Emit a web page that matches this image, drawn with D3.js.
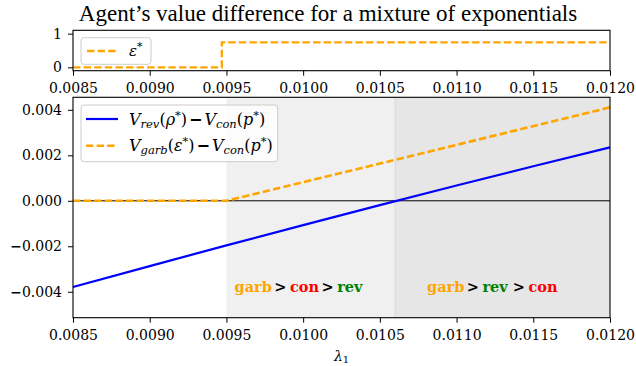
<!DOCTYPE html>
<html>
<head>
<meta charset="utf-8">
<script src="https://cdn.jsdelivr.net/npm/d3@7"></script>
<style>
  html, body { margin: 0; padding: 0; background: #fff; }
  svg { display: block; }
  .tick text { font-family: "DejaVu Serif", serif; font-size: 14px; fill: #000; }
  .domain { display: none; }
</style>
</head>
<body>
<svg id="chart" width="636" height="366"></svg>
<script>
// λ₁ grid and value differences
const lambda = [0.0085, 0.0090, 0.0095, 0.0100, 0.0105, 0.0110, 0.0115, 0.0120];
const revMinusCon = [-0.00379, -0.00287, -0.00196, -0.00107, -0.00019, 0.00067, 0.00152, 0.00235];
const garbMinusCon = [0, 0, 0, 0.00082, 0.00164, 0.00246, 0.00328, 0.00411];

// optimal garbling ε* (step function)
const epsLambda = [0.0085, 0.00947, 0.0120];
const epsStar = [0, 0.74, 0.74];

// shaded preference regions
const regionEdges = [0.0095, 0.0106, 0.0120];
const regionFill = ["#f0f0f0", "#e6e6e6"];
const regionOrders = [
  ["garb", "con", "rev"],
  ["garb", "rev", "con"]
];
const orderColor = { garb: "#ffa500", con: "#ff0000", rev: "#008000" };

// ticks
const xTicks = [0.0085, 0.0090, 0.0095, 0.0100, 0.0105, 0.0110, 0.0115, 0.0120];
const yTicksTop = [0, 1];
const yTicksBottom = [-0.004, -0.002, 0.000, 0.002, 0.004];

const title = "Agent\u2019s value difference for a mixture of exponentials";

const svg = d3.select("#chart");
const left = 73, right = 610;
const top1 = 30.3, bot1 = 70.7;
const top2 = 97.3, bot2 = 317.7;

const x = d3.scaleLinear().domain([0.0085, 0.0120]).range([left, right]);
const y1 = d3.scaleLinear().domain([-0.1, 1.1]).range([bot1, top1]);
const y2 = d3.scaleLinear().domain([-0.00514, 0.00455]).range([bot2, top2]);

const MINUS = "\u2212";

// title
svg.append("text")
  .attr("x", 328).attr("y", 21)
  .attr("text-anchor", "middle")
  .style("font-family", "'Liberation Serif', serif")
  .style("font-size", "23px")
  .text(title);

// ---------- top panel ----------
const gTop = svg.append("g");
gTop.append("path")
  .datum(epsLambda.map((l, i) => [l, epsStar[i]]))
  .attr("fill", "none")
  .attr("stroke", "#ffa500")
  .attr("stroke-width", 2.3)
  .attr("stroke-dasharray", "7.4,3.2")
  .attr("d", d3.line().x(d => x(d[0])).y(d => y1(d[1])).curve(d3.curveStepAfter));

gTop.append("rect")
  .attr("x", left).attr("y", top1)
  .attr("width", right - left).attr("height", bot1 - top1)
  .attr("fill", "none").attr("stroke", "#000").attr("stroke-width", 1.1);

const ax1 = svg.append("g").attr("transform", `translate(0,${bot1})`)
  .call(d3.axisBottom(x).tickValues(xTicks).tickFormat(d3.format(".4f")).tickSize(5).tickPadding(7));
const ay1 = svg.append("g").attr("transform", `translate(${left},0)`)
  .call(d3.axisLeft(y1).tickValues(yTicksTop).tickFormat(d3.format("d")).tickSize(5).tickPadding(6));

// top legend
const lg1 = svg.append("g");
lg1.append("rect").attr("x", 81).attr("y", 37.7).attr("width", 70).attr("height", 26.6)
  .attr("rx", 3).attr("fill", "#fff").attr("fill-opacity", 0.8)
  .attr("stroke", "#cccccc").attr("stroke-width", 1);
lg1.append("line").attr("x1", 87).attr("x2", 117).attr("y1", 51).attr("y2", 51)
  .attr("stroke", "#ffa500").attr("stroke-width", 2.3).attr("stroke-dasharray", "7.4,3.2");
const t1 = lg1.append("text").attr("x", 129).attr("y", 56)
  .style("font-family", "'DejaVu Serif', serif").style("font-size", "15px");
t1.append("tspan").style("font-style", "italic").text("\u03b5");
t1.append("tspan").attr("dy", -6).style("font-size", "11px").text("*");

// ---------- bottom panel ----------
const gBot = svg.append("g");
for (let i = 0; i < regionFill.length; i++) {
  gBot.append("rect")
    .attr("x", x(regionEdges[i])).attr("y", top2)
    .attr("width", x(regionEdges[i + 1]) - x(regionEdges[i]))
    .attr("height", bot2 - top2)
    .attr("fill", regionFill[i]);
}
gBot.append("line")
  .attr("x1", x(regionEdges[1])).attr("x2", x(regionEdges[1]))
  .attr("y1", top2).attr("y2", bot2)
  .attr("stroke", "#d8d8d8").attr("stroke-width", 1);

// zero reference line
gBot.append("line")
  .attr("x1", left).attr("x2", right)
  .attr("y1", y2(0)).attr("y2", y2(0))
  .attr("stroke", "#000").attr("stroke-width", 1);

const line2 = d3.line().x(d => x(d[0])).y(d => y2(d[1]));
gBot.append("path")
  .datum(lambda.map((l, i) => [l, revMinusCon[i]]))
  .attr("fill", "none").attr("stroke", "#0000ff").attr("stroke-width", 2.2)
  .attr("d", line2);
gBot.append("path")
  .datum(lambda.map((l, i) => [l, garbMinusCon[i]]))
  .attr("fill", "none").attr("stroke", "#ffa500").attr("stroke-width", 2.6)
  .attr("stroke-dasharray", "7.4,3.2")
  .attr("d", line2);

// preference orderings
const labelX = [234.5, 427];
regionOrders.forEach((order, i) => {
  const t = gBot.append("text").attr("x", labelX[i]).attr("y", 291.5)
    .style("font-family", "'DejaVu Serif', serif").style("font-size", "14.5px")
    .style("font-weight", "bold");
  order.forEach((name, j) => {
    if (j > 0) {
      t.append("tspan").attr("dx", (i === 1 && j === 2) ? 5 : 2.5).attr("fill", "#000").text(">");
    }
    t.append("tspan").attr("dx", j > 0 ? 3.5 : 0).attr("fill", orderColor[name]).text(name);
  });
});

gBot.append("rect")
  .attr("x", left).attr("y", top2)
  .attr("width", right - left).attr("height", bot2 - top2)
  .attr("fill", "none").attr("stroke", "#000").attr("stroke-width", 1.1);

const ax2 = svg.append("g").attr("transform", `translate(0,${bot2})`)
  .call(d3.axisBottom(x).tickValues(xTicks).tickFormat(d3.format(".4f")).tickSize(5).tickPadding(7));
const ay2 = svg.append("g").attr("transform", `translate(${left},0)`)
  .call(d3.axisLeft(y2).tickValues(yTicksBottom).tickSize(5).tickPadding(6)
    .tickFormat(d => d3.format(".3f")(Math.abs(d))));
// negative labels get a heavy minus sign
ay2.selectAll(".tick text").each(function(d) {
  if (d < 0) {
    const t = d3.select(this);
    const s = t.text();
    t.text(null);
    t.append("tspan").style("font-family", "'DejaVu Sans', sans-serif").style("font-weight", "bold").text(MINUS);
    t.append("tspan").text(s);
  }
});

svg.selectAll(".tick line").attr("stroke", "#000").attr("stroke-width", 1);

// x label λ₁
const xl = svg.append("text").attr("x", (left + right) / 2).attr("y", 361)
  .attr("text-anchor", "middle")
  .style("font-family", "'DejaVu Serif', serif").style("font-size", "14px");
xl.append("tspan").style("font-style", "italic").text("\u03bb");
xl.append("tspan").attr("dy", 2).style("font-size", "10px").text("1");

// bottom legend
const lg2 = svg.append("g");
lg2.append("rect").attr("x", 81).attr("y", 105).attr("width", 196.7).attr("height", 56.7)
  .attr("rx", 3).attr("fill", "#fff").attr("fill-opacity", 0.8)
  .attr("stroke", "#cccccc").attr("stroke-width", 1);
lg2.append("line").attr("x1", 86).attr("x2", 118).attr("y1", 119).attr("y2", 119)
  .attr("stroke", "#0000ff").attr("stroke-width", 2.2);
lg2.append("line").attr("x1", 86).attr("x2", 118).attr("y1", 145.7).attr("y2", 145.7)
  .attr("stroke", "#ffa500").attr("stroke-width", 2.6).attr("stroke-dasharray", "7.4,3.2");

function mathEntry(yBase, parts) {
  const t = lg2.append("text").attr("x", 129).attr("y", yBase)
    .style("font-family", "'DejaVu Serif', serif").style("font-size", "16px");
  parts.forEach(p => {
    const s = t.append("tspan").text(p.t);
    if (p.i) s.style("font-style", "italic");
    if (p.sub) s.style("font-size", "11.5px").attr("dy", 3);
    if (p.sup) s.style("font-size", "11.5px").attr("dy", -6);
    if (p.back) s.attr("dy", p.back);
    if (p.sans) s.style("font-family", "'DejaVu Sans', sans-serif").style("font-weight", "bold");
    if (p.dx) s.attr("dx", p.dx);
  });
}
mathEntry(124.5, [
  { t: "V", i: true }, { t: "rev", i: true, sub: true }, { t: "(", back: -3 }, { t: "\u03c1", i: true },
  { t: "*", sup: true }, { t: ")", back: 6 }, { t: MINUS, sans: true, dx: 2 }, { t: "V", i: true, dx: 2 },
  { t: "con", i: true, sub: true }, { t: "(", back: -3 }, { t: "p", i: true }, { t: "*", sup: true }, { t: ")", back: 6 }
]);
mathEntry(151, [
  { t: "V", i: true }, { t: "garb", i: true, sub: true }, { t: "(", back: -3 }, { t: "\u03b5", i: true },
  { t: "*", sup: true }, { t: ")", back: 6 }, { t: MINUS, sans: true, dx: 2 }, { t: "V", i: true, dx: 2 },
  { t: "con", i: true, sub: true }, { t: "(", back: -3 }, { t: "p", i: true }, { t: "*", sup: true }, { t: ")", back: 6 }
]);
</script>
</body>
</html>
